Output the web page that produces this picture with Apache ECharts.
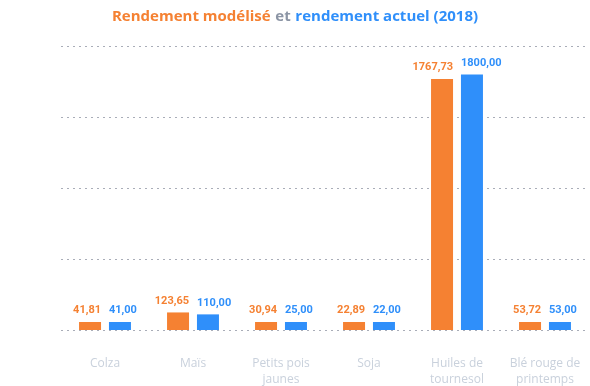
<!DOCTYPE html>
<html><head><meta charset="utf-8">
<script src="https://cdn.jsdelivr.net/npm/echarts@6/dist/echarts.min.js"></script>
<style>html,body{margin:0;padding:0;background:#fff}#c{width:590px;height:386px}</style>
</head><body><div id="c"></div>
<script>
const categories = ['Colza', 'Maïs', 'Petits pois\njaunes', 'Soja', 'Huiles de\ntournesol', 'Blé rouge de\nprintemps'];
const modeled = [41.81, 123.65, 30.94, 22.89, 1767.73, 53.72];
const actual = [41.00, 110.00, 25.00, 22.00, 1800.00, 53.00];
const yTicks = [0, 500, 1000, 1500, 2000];

const ORANGE = '#f58132', BLUE = '#2f8ffa';
const fmt = v => v.toFixed(2).replace('.', ',');
const chart = echarts.init(document.getElementById('c'));
chart.setOption({
  animation: false,
  textStyle: { fontFamily: 'Open Sans' },
  title: {
    text: '{o|Rendement modélisé} {g|et} {b|rendement actuel (2018)}',
    left: 'center', top: 3,
    textStyle: {
      rich: {
        o: { color: ORANGE, fontSize: 15, fontWeight: 'bold', fontFamily: 'Open Sans' },
        g: { color: '#8c95a5', fontSize: 15, fontWeight: 'bold', fontFamily: 'Open Sans' },
        b: { color: BLUE, fontSize: 15, fontWeight: 'bold', fontFamily: 'Open Sans' }
      }
    }
  },
  grid: { left: 61, right: 1, top: 46, bottom: 56, outerBoundsMode: 'none', containLabel: false },
  xAxis: {
    type: 'category', data: categories,
    axisLine: { show: false }, axisTick: { show: false },
    axisLabel: { color: '#c9d1dc', fontSize: 12, margin: 26, lineHeight: 16, interval: 0 }
  },
  yAxis: {
    type: 'value', min: yTicks[0], max: yTicks[yTicks.length - 1], interval: 500,
    axisLabel: { show: false }, axisLine: { show: false }, axisTick: { show: false },
    splitLine: { show: true, lineStyle: { type: [2, 4], color: '#a9adb8', width: 1 } }
  },
  series: [
    {
      type: 'bar', data: modeled, barWidth: 22, barGap: '36%', barMinHeight: 8,
      itemStyle: { color: ORANGE },
      label: { show: true, position: 'top', distance: 6, align: 'right', offset: [11, 0], color: ORANGE, fontWeight: 'bold', fontSize: 11, fontFamily: 'Roboto', formatter: p => fmt(p.value) }
    },
    {
      type: 'bar', data: actual, barWidth: 22, barMinHeight: 8,
      itemStyle: { color: BLUE },
      label: { show: true, position: 'top', distance: 6, align: 'left', offset: [-11, 0], color: BLUE, fontWeight: 'bold', fontSize: 11, fontFamily: 'Roboto', formatter: p => fmt(p.value) }
    }
  ]
});
</script></body></html>
